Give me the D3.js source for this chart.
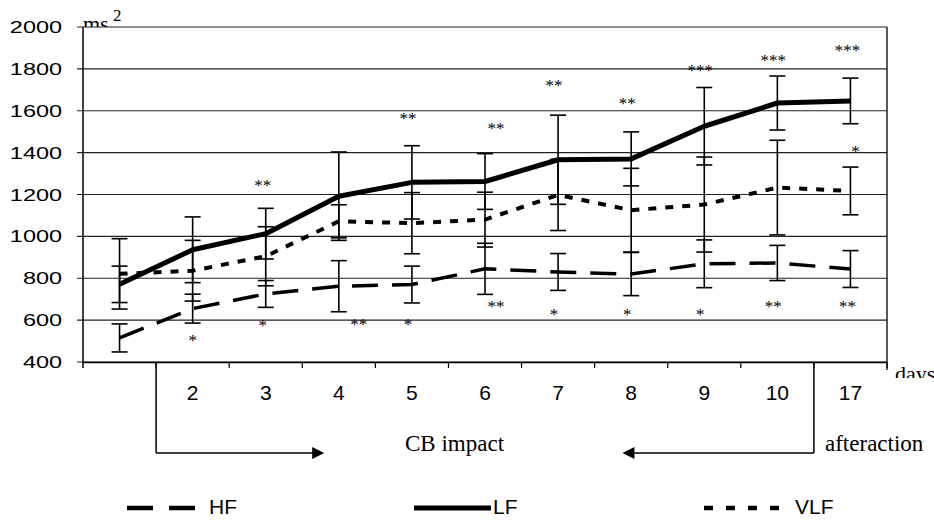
<!DOCTYPE html>
<html>
<head>
<meta charset="utf-8">
<script src="https://cdn.jsdelivr.net/npm/d3@7"></script>
<style>
  body { margin: 0; background: #fff; }
  svg { display: block; }
</style>
</head>
<body>
<svg width="934" height="520"></svg>
<script>
// Data (ms^2)
const categories = ["1", "2", "3", "4", "5", "6", "7", "8", "9", "10", "17"];
const tickLabels = ["", "2", "3", "4", "5", "6", "7", "8", "9", "10", "17"];
const yTicks = [400, 600, 800, 1000, 1200, 1400, 1600, 1800, 2000];

const hfMean = [515, 655, 725, 762, 770, 845, 830, 820, 869, 873, 844];
const hfErr = [67, 69, 64, 122, 88, 122, 88, 103, 114, 84, 88];
const lfMean = [771, 936, 1013, 1192, 1258, 1262, 1366, 1370, 1526, 1637, 1647];
const lfErr = [87, 157, 121, 211, 175, 133, 213, 129, 185, 129, 109];
const vlfMean = [821, 836, 905, 1072, 1063, 1080, 1198, 1125, 1152, 1233, 1217];
const vlfErr = [168, 145, 141, 79, 146, 131, 170, 200, 227, 226, 114];

// significance marks and the level (ms^2) where they sit
const sigTop = ["", "", "**", "", "**", "**", "**", "**", "***", "***", "***"];
const sigTopAt = [0, 0, 1260, 0, 1580, 1532, 1737, 1651, 1809, 1857, 1904];
const sigBottom = ["", "*", "*", "**", "*", "**", "*", "*", "*", "**", "**"];
const sigBottomAt = [0, 519, 591, 596, 596, 682, 644, 644, 644, 682, 682];
const sigVlf = ["", "", "", "", "", "", "", "", "", "", "*"];
const sigVlfAt = [0, 0, 0, 0, 0, 0, 0, 0, 0, 0, 1422];

const svg = d3.select("svg");
const mLeft = 83, mRight = 887, mTop = 27, mBottom = 362;

const x = d3.scaleBand().domain(categories).range([mLeft, mRight]).padding(0);
const bw = x.bandwidth();
const cx = i => x(categories[i]) + bw / 2;
const y = d3.scaleLinear().domain([400, 2000]).range([mBottom, mTop]);

const serif = "'Liberation Serif', 'Times New Roman', serif";
const sans = "'Liberation Sans', Arial, sans-serif";

// unit label (partly hidden behind the plot frame, like the original)
svg.append("text").attr("x", mLeft).attr("y", 31)
  .attr("font-family", serif).attr("font-size", 22).text("ms");
svg.append("text").attr("x", 113).attr("y", 21)
  .attr("font-family", serif).attr("font-size", 17).text("2");

svg.append("rect").attr("x", mLeft).attr("y", mTop)
  .attr("width", mRight - mLeft).attr("height", mBottom - mTop).attr("fill", "#fff");

// gridlines
svg.append("g").selectAll("line").data(yTicks).join("line")
  .attr("x1", mLeft - 6).attr("x2", mRight)
  .attr("y1", d => y(d)).attr("y2", d => y(d))
  .attr("stroke", "#222").attr("stroke-width", 1.1);

// y labels (wide, as in the source)
svg.append("g").selectAll("text").data(yTicks).join("text")
  .attr("transform", d => `translate(62,${y(d) + 6}) scale(1.38,1)`)
  .attr("text-anchor", "end")
  .attr("font-family", sans).attr("font-size", 17)
  .text(d => d);

// frame
svg.append("line").attr("x1", mLeft).attr("x2", mLeft).attr("y1", mTop).attr("y2", mBottom + 6)
  .attr("stroke", "#000").attr("stroke-width", 1.5);
svg.append("line").attr("x1", mRight).attr("x2", mRight).attr("y1", mTop).attr("y2", mBottom + 8)
  .attr("stroke", "#000").attr("stroke-width", 1.3);

// x axis
const xAxis = svg.append("g").attr("transform", `translate(0,${mBottom})`)
  .call(d3.axisBottom(x).tickSize(0).tickFormat((d, i) => tickLabels[i]));
xAxis.select(".domain").attr("stroke", "#000").attr("stroke-width", 1.5);
xAxis.selectAll("text").attr("font-family", sans).attr("font-size", 21)
  .attr("fill", "#000").attr("dy", 0).attr("y", 38);
svg.append("g").selectAll("line").data(categories).join("line")
  .attr("x1", d => x(d) + bw).attr("x2", d => x(d) + bw)
  .attr("y1", mBottom).attr("y2", mBottom + 6)
  .attr("stroke", "#000").attr("stroke-width", 1.2);

// error bars
function errorBars(mean, err) {
  const g = svg.append("g").attr("stroke", "#000").attr("stroke-width", 1.6);
  mean.forEach((m, i) => {
    const xc = cx(i), y1 = y(m + err[i]), y2 = y(m - err[i]);
    g.append("line").attr("x1", xc).attr("x2", xc).attr("y1", y1).attr("y2", y2);
    g.append("line").attr("x1", xc - 8).attr("x2", xc + 8).attr("y1", y1).attr("y2", y1);
    g.append("line").attr("x1", xc - 8).attr("x2", xc + 8).attr("y1", y2).attr("y2", y2);
  });
}
errorBars(vlfMean, vlfErr);
errorBars(hfMean, hfErr);
errorBars(lfMean, lfErr);

const line = d3.line().x((d, i) => cx(i)).y(d => y(d));

svg.append("path").datum(vlfMean).attr("d", line)
  .attr("fill", "none").attr("stroke", "#000").attr("stroke-width", 4)
  .attr("stroke-dasharray", "8,9");
svg.append("path").datum(hfMean).attr("d", line)
  .attr("fill", "none").attr("stroke", "#000").attr("stroke-width", 3.5)
  .attr("stroke-dasharray", "26,14");
svg.append("path").datum(lfMean).attr("d", line)
  .attr("fill", "none").attr("stroke", "#000").attr("stroke-width", 5)
  .attr("stroke-linejoin", "round");

// significance marks
const starNudge = [0, 0, -3, 20, -4, 11, -4, -4, -4, -4, -3];
function stars(labels, at, dx) {
  svg.append("g").selectAll("text").data(labels).join("text")
    .attr("x", (d, i) => cx(i) + dx[i])
    .attr("y", (d, i) => y(at[i]) + 9)
    .attr("text-anchor", "middle")
    .attr("font-family", serif).attr("font-size", 17)
    .attr("fill", "#000")
    .text(d => d);
}
stars(sigTop, sigTopAt, starNudge.map((d, i) => i === 3 ? 0 : d));
stars(sigBottom, sigBottomAt, starNudge);
stars(sigVlf, sigVlfAt, categories.map(() => 5));

// days label, clipped at the bottom like the source
svg.append("clipPath").attr("id", "daysClip")
  .append("rect").attr("x", 888).attr("y", 355).attr("width", 60).attr("height", 23);
svg.append("text").attr("x", 895).attr("y", 381).attr("clip-path", "url(#daysClip)")
  .attr("font-family", serif).attr("font-size", 22).text("days");

// CB impact / afteraction brackets
const arrowY = 453;
const bl = x("2"), br = x("10") + bw;
const tipL = x("4") + bw * 0.3, tipR = x("8") + bw * 0.38;
const ag = svg.append("g").attr("stroke", "#000").attr("stroke-width", 1.5);
ag.append("line").attr("x1", bl).attr("x2", bl).attr("y1", mBottom).attr("y2", arrowY);
ag.append("line").attr("x1", bl).attr("x2", tipL - 8).attr("y1", arrowY).attr("y2", arrowY);
ag.append("line").attr("x1", br).attr("x2", br).attr("y1", mBottom).attr("y2", arrowY);
ag.append("line").attr("x1", br).attr("x2", tipR + 8).attr("y1", arrowY).attr("y2", arrowY);
svg.append("path").attr("d", `M${tipL},${arrowY} L${tipL - 12},${arrowY - 6} L${tipL - 12},${arrowY + 6} Z`);
svg.append("path").attr("d", `M${tipR},${arrowY} L${tipR + 12},${arrowY - 6} L${tipR + 12},${arrowY + 6} Z`);

svg.append("text").attr("x", 405).attr("y", 451)
  .attr("font-family", serif).attr("font-size", 23).text("CB impact");
svg.append("text").attr("x", 825).attr("y", 451)
  .attr("font-family", serif).attr("font-size", 23).text("afteraction");

// legend
const legend = [
  { name: "HF", x1: 127, x2: 196, dash: "26,16", w: 4.5 },
  { name: "LF", x1: 414, x2: 491, dash: null, w: 5 },
  { name: "VLF", x1: 704, x2: 782, dash: "9,13", w: 4.5 }
];
const lg = svg.append("g");
legend.forEach(d => {
  lg.append("line").attr("x1", d.x1).attr("x2", d.x2).attr("y1", 508).attr("y2", 508)
    .attr("stroke", "#000").attr("stroke-width", d.w)
    .attr("stroke-dasharray", d.dash);
  lg.append("text").attr("x", d.x2 + (d.dash ? 13 : 2)).attr("y", 514)
    .attr("font-family", sans).attr("font-size", 21).text(d.name);
});
</script>
</body>
</html>
